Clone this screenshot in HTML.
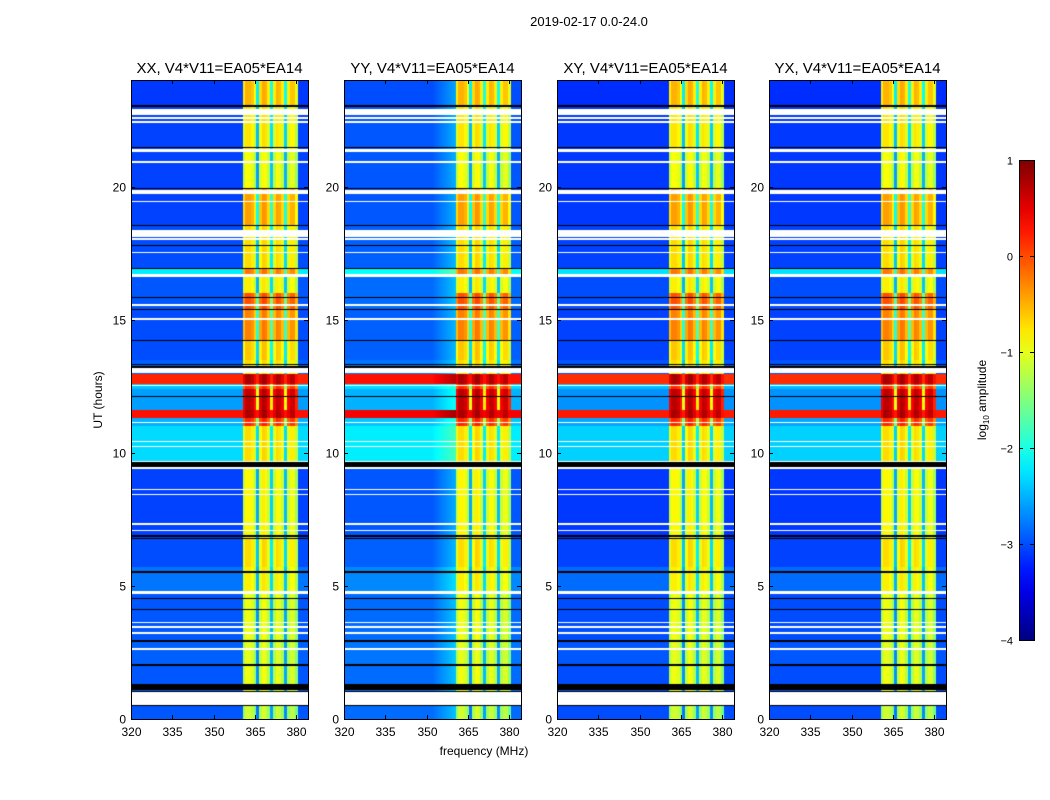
<!DOCTYPE html>
<html><head><meta charset="utf-8">
<style>
html,body{margin:0;padding:0;background:#fff;}
#root{position:relative;width:1050px;height:800px;overflow:hidden;font-family:"Liberation Sans","DejaVu Sans",sans-serif;}
canvas{position:absolute;}
svg{position:absolute;left:0;top:0;}
</style></head>
<body>
<div id="root">
<svg id="svg" width="1050" height="800"></svg>
</div>
<script>
// ---- data ----
const panelTitles = ["XX, V4*V11=EA05*EA14","YY, V4*V11=EA05*EA14","XY, V4*V11=EA05*EA14","YX, V4*V11=EA05*EA14"];
const panelBgOffset = [0.0, 0.1, -0.05, -0.05];
const xTicks = [320,335,350,365,380];
const yTicks = [0,5,10,15,20];
const cbTicks = [1,0,-1,-2,-3,-4];
// time segments: start hour, end hour, background log-amp, RFI band log-amp
const segStart = [0.0,1.0,2.0,3.0,4.8,5.7,6.8,9.7,11.0,11.3,11.6,12.4,12.6,12.95,13.5,14.2,15.4,16.0,16.6,16.9,18.5,19.9,21.4,23.0];
const segEnd   = [0.5,2.0,3.0,4.8,5.7,6.8,9.4,11.0,11.3,11.6,12.4,12.6,12.95,13.5,14.2,15.4,16.0,16.6,16.9,18.5,19.9,21.4,23.0,24.0];
const segBg    = [-2.95,-2.95,-2.9,-2.95,-2.8,-3.0,-3.05,-2.3,-2.5,0.3,-2.6,-2.4,0.2,-2.9,-3.0,-3.0,-2.95,-2.95,-2.2,-3.0,-3.05,-3.05,-3.05,-3.1];
const segBand  = [-1.2,-1.05,-1.1,-1.05,-0.9,-0.8,-0.95,-0.8,0.1,0.7,0.6,0.1,0.7,-0.8,-0.7,-0.35,-0.1,-0.9,-0.3,-0.8,-0.5,-1.0,-0.85,-0.6];
// flagged (white) and dark rows
const whiteStart = [0.5,4.7,3.4,3.2,3.6,2.6,8.4,8.6,7.3,7.05,10.4,10.2,11.1,12.5,13.0,15.0,15.5,16.6,17.5,18.0,18.1,19.4,19.7,20.9,21.3,22.4,22.55,22.7,9.4];
const whiteEnd   = [1.0,4.82,3.5,3.27,3.65,2.65,8.45,8.65,7.35,7.1,10.45,10.25,11.15,12.55,13.2,15.05,15.6,16.7,17.55,18.05,18.35,19.47,19.85,20.95,21.4,22.45,22.6,22.9,9.45];
const blackStart = [1.0,1.1,2.0,2.9,4.1,4.5,5.5,6.75,6.85,9.45,13.3,14.2,15.35,15.8,16.9,17.75,18.5,19.9,21.45,23.0,12.1,0.5,13.2];
const blackEnd   = [1.05,1.3,2.05,2.95,4.15,4.55,5.55,6.8,6.9,9.65,13.35,14.25,15.4,15.85,16.95,17.8,18.55,19.95,21.5,23.05,12.15,0.53,13.25];
// RFI band channel offsets, 1 MHz bins from 360.5
const bandStartMHz = 360.5;
const chanDelta = [-0.2,0.1,0.1,0.0,-0.3,-1.6,-0.1,0.15,0.1,-0.2,-1.4,-0.2,0.1,0.05,-0.2,-1.5,-0.2,0.0,0.0,-0.4];

// ---- layout ----
const panelX = [131,344,557,769], panelW = 177, plotTop = 80, plotBottom = 719;
const fMin = 320, fMax = 384.2, tMin = 0, tMax = 24;
function xs(i,f){return panelX[i] + (f-fMin)/(fMax-fMin)*panelW;}
function ys(t){return plotBottom - (t-tMin)/(tMax-tMin)*(plotBottom-plotTop);}
const cbX=1019,cbW=15,cbTop=160,cbBot=640;
function cy(v){return cbBot - (v+4)/5*(cbBot-cbTop);}

function jet(v){ // v in [-4,1]
  let x=Math.max(0,Math.min(1,(v+4)/5));
  const r=Math.max(0,Math.min(1,1.5-Math.abs(4*x-3)));
  const g=Math.max(0,Math.min(1,1.5-Math.abs(4*x-2)));
  const b=Math.max(0,Math.min(1,1.5-Math.abs(4*x-1)));
  return [r*255|0,g*255|0,b*255|0];
}
function inList(t,s,e){for(let k=0;k<s.length;k++){if(t>=s[k]&&t<e[k])return true;}return false;}
function cellValue(p,t,f){
  let si=-1;
  for(let k=0;k<segStart.length;k++){if(t>=segStart[k]&&t<segEnd[k]){si=k;break;}}
  if(si<0) return null;
  const bg=segBg[si]+panelBgOffset[p];
  if(f>=bandStartMHz && f<bandStartMHz+chanDelta.length){
    const c=Math.floor(f-bandStartMHz);
    return Math.max(bg, segBand[si]+chanDelta[c]);
  }
  let v=bg;
  if(f>=352&&f<bandStartMHz && p===1) v=Math.max(v,bg+(f-352)/8*0.4);
  return v;
}

const root=document.getElementById('root');
const svg=document.getElementById('svg');
const NS="http://www.w3.org/2000/svg";
function mk(tag,attrs,txt){const e=document.createElementNS(NS,tag);for(const k in attrs)e.setAttribute(k,attrs[k]);if(txt!==undefined)e.textContent=txt;svg.appendChild(e);return e;}

for(let p=0;p<4;p++){
  const cv=document.createElement('canvas');
  
  
  cv.width=panelW; cv.height=plotBottom-plotTop;
  cv.style.left=panelX[p]+'px'; cv.style.top=plotTop+'px';
  root.insertBefore(cv,svg);
  const ctx=cv.getContext('2d');
  const img=ctx.createImageData(cv.width,cv.height);
  for(let yy=0;yy<cv.height;yy++){
    const t=tMax-(yy+0.5)/cv.height*(tMax-tMin);
    const white=inList(t,whiteStart,whiteEnd), black=inList(t,blackStart,blackEnd);
    for(let xx=0;xx<cv.width;xx++){
      const f=fMin+(xx+0.5)/cv.width*(fMax-fMin);
      let col;
      if(black) col=[0,0,0];
      else if(white) col=[255,255,255];
      else { const v=cellValue(p,t,f); col= v===null?[255,255,255]:jet(v); }
      const o=(yy*cv.width+xx)*4;
      img.data[o]=col[0];img.data[o+1]=col[1];img.data[o+2]=col[2];img.data[o+3]=255;
    }
  }
  ctx.putImageData(img,0,0);

  const fr=mk('rect',{x:panelX[p]+0.5,y:plotTop+0.5,width:panelW,height:plotBottom-plotTop,fill:'none',stroke:'#000','stroke-width':1});
  
  
  const tt=mk('text',{x:panelX[p]+panelW/2,y:73,'text-anchor':'middle','font-size':15},panelTitles[p]);
  
  
  xTicks.forEach(v=>{
    const x=Math.round(xs(p,v))+0.5;
    mk('line',{x1:x,x2:x,y1:plotBottom,y2:plotBottom-4,stroke:'#000'});
    mk('line',{x1:x,x2:x,y1:plotTop,y2:plotTop+4,stroke:'#000'});
    const l=mk('text',{x:x,y:736,'text-anchor':'middle','font-size':12},String(v));
    
    
  });
  yTicks.forEach(v=>{
    const y=Math.round(ys(v))+0.5;
    mk('line',{x1:panelX[p],x2:panelX[p]+4,y1:y,y2:y,stroke:'#000'});
    mk('line',{x1:panelX[p]+panelW,x2:panelX[p]+panelW-4,y1:y,y2:y,stroke:'#000'});
    const l=mk('text',{x:panelX[p]-5,y:y+4,'text-anchor':'end','font-size':12},String(v));
    
    
  });
}
let e;
e=mk('text',{x:589,y:26,'text-anchor':'middle','font-size':13},'2019-02-17 0.0-24.0');


e=mk('text',{x:484,y:755,'text-anchor':'middle','font-size':12},'frequency (MHz)');


e=mk('text',{x:0,y:0,'text-anchor':'middle','font-size':12,transform:'translate(102,400) rotate(-90)'},'UT (hours)');



// colorbar
const defs=mk('defs',{});
const lg=document.createElementNS(NS,'linearGradient');
lg.setAttribute('id','cbg');lg.setAttribute('x1','0');lg.setAttribute('y1','1');lg.setAttribute('x2','0');lg.setAttribute('y2','0');
defs.appendChild(lg);
for(let i=0;i<=20;i++){const v=-4+i*5/20;const c=jet(v);const s=document.createElementNS(NS,'stop');s.setAttribute('offset',i/20);s.setAttribute('stop-color','rgb('+c.join(',')+')');lg.appendChild(s);}
e=mk('rect',{x:cbX+0.5,y:cbTop+0.5,width:cbW,height:cbBot-cbTop,fill:'url(#cbg)',stroke:'#000'});


cbTicks.forEach(v=>{
  const y=Math.round(cy(v))+0.5;
  mk('line',{x1:cbX,x2:cbX+4,y1:y,y2:y,stroke:'#000'});
  mk('line',{x1:cbX+cbW,x2:cbX+cbW-4,y1:y,y2:y,stroke:'#000'});
  const l=mk('text',{x:1013,y:y+4,'text-anchor':'end','font-size':11},v<0?'\u2212'+(-v):String(v));
  
  
});
e=mk('text',{x:0,y:0,'text-anchor':'middle','font-size':12,transform:'translate(986,400) rotate(-90)'});


e.innerHTML='log<tspan font-size="8" dy="3">10</tspan><tspan dy="-3"> amplitude</tspan>';
</script>
</body></html>
